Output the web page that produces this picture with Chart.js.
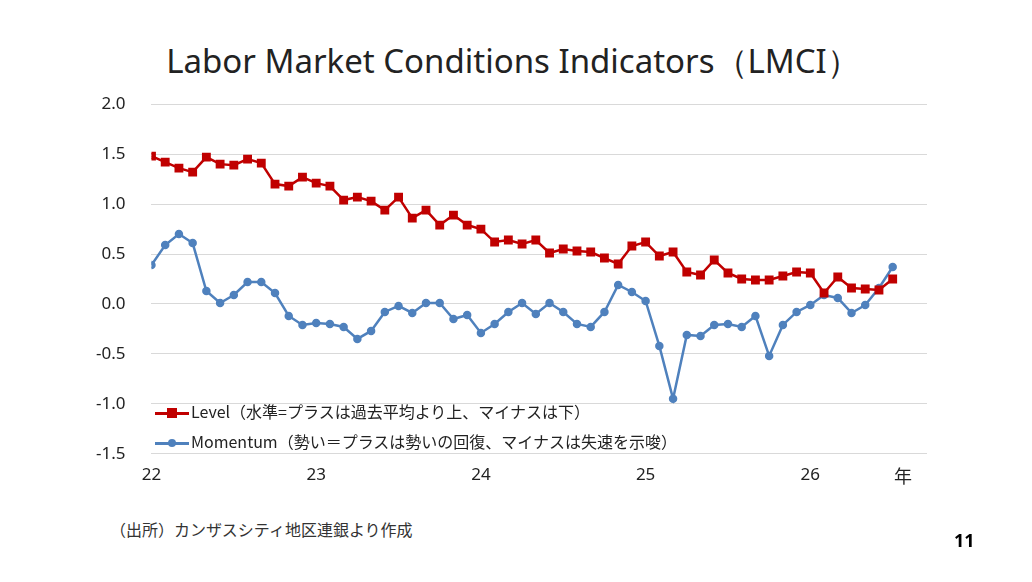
<html>
<head>
<meta charset="utf-8">
<script src="https://cdn.jsdelivr.net/npm/chart.js"></script>
<style>
  body { margin:0; width:1032px; height:582px; background:#fff; font-family:"Noto Sans CJK JP", sans-serif; position:relative; overflow:hidden; }
  #title { position:absolute; left:8px; width:1010px; top:38px; text-align:center; font-size:33px; color:#222; font-family:"Noto Sans"; }
  #wrap { position:absolute; left:70px; top:68px; width:864px; height:422px; }
  .leg { position:absolute; font-size:16px; color:#222; white-space:nowrap; }
  .leg span.ln { display:inline-block; width:34px; height:3px; vertical-align:middle; position:relative; margin-right:2px; }
  .leg span.mk { position:absolute; left:12px; top:-4px; width:10px; height:10px; }
  #nen { position:absolute; left:894px; top:462px; font-size:18px; color:#222; }
  #src { position:absolute; left:110px; top:517px; font-size:16px; color:#333; }
  #pg { position:absolute; left:954px; top:528px; font-size:18px; font-weight:bold; font-family:"Noto Sans"; }
</style>
</head>
<body>
<div id="title">Labor Market Conditions Indicators（LMCI）</div>
<div id="wrap"><canvas id="c"></canvas></div>
<div class="leg" style="left:155px;top:399px"><span class="ln" style="background:#c00000"><span class="mk" style="background:#c00000"></span></span>Level（水準=プラスは過去平均より上、マイナスは下）</div>
<div class="leg" style="left:155px;top:429px"><span class="ln" style="background:#4f81bd"><span class="mk" style="background:#4f81bd;border-radius:50%;width:8px;height:8px;top:-3px;left:13px"></span></span>Momentum（勢い＝プラスは勢いの回復、マイナスは失速を示唆）</div>
<div id="nen">年</div>
<div id="src">（出所）カンザスシティ地区連銀より作成</div>
<div id="pg">11</div>
<script>
// monthly, starting Jan of year "22"
var yearLabels = ['22','23','24','25','26'];
var level = [1.48,1.42,1.36,1.32,1.47,1.40,1.39,1.45,1.41,1.20,1.18,1.27,1.21,1.18,1.04,1.07,1.03,0.94,1.07,0.86,
  0.94,0.79,0.89,0.79,0.75,0.62,0.64,0.60,0.64,0.51,0.55,0.53,0.52,0.46,0.40,0.58,0.62,0.48,0.52,0.32,
  0.29,0.44,0.31,0.25,0.24,0.24,0.28,0.32,0.31,0.11,0.27,0.16,0.15,0.14,0.25];
var momentum = [0.39,0.59,0.70,0.61,0.13,0.01,0.09,0.22,0.22,0.11,-0.12,-0.21,-0.19,-0.20,-0.23,-0.35,-0.27,-0.08,-0.02,-0.09,
  0.01,0.01,-0.15,-0.11,-0.29,-0.20,-0.08,0.01,-0.10,0.01,-0.08,-0.20,-0.23,-0.08,0.19,0.12,0.03,-0.42,-0.95,-0.31,
  -0.32,-0.21,-0.20,-0.23,-0.12,-0.52,-0.21,-0.08,-0.01,0.09,0.06,-0.09,-0.01,0.16,0.37];

function pts(a){ return a.map(function(v,i){ return {x:i, y:v}; }); }

new Chart(document.getElementById('c'), {
  type: 'line',
  data: { datasets: [
    { label:'Level', data:pts(level), borderColor:'#c00000', backgroundColor:'#c00000', borderWidth:2.5,
      pointStyle:'rect', pointRadius:4.5, tension:0 },
    { label:'Momentum', data:pts(momentum), borderColor:'#4f81bd', backgroundColor:'#4f81bd', borderWidth:2.5,
      pointStyle:'circle', pointRadius:3, tension:0 }
  ]},
  options: {
    responsive:true, maintainAspectRatio:false, animation:false,
    layout:{ padding:{ top:5 } },
    plugins:{ legend:{ display:false }, tooltip:{ enabled:false } },
    scales:{
      x:{ type:'linear', min:0, max:56.5,
        grid:{ display:false }, border:{ display:false },
        ticks:{ stepSize:12, autoSkip:false, color:'#222', font:{ size:17, family:'Noto Sans' },
          callback:function(v){ return yearLabels[v/12] || ''; } } },
      y:{ min:-1.5, max:2.0,
        grid:{ color:'#d9d9d9', drawTicks:false }, border:{ display:false },
        ticks:{ stepSize:0.5, padding:26, color:'#222', font:{ size:17, family:'Noto Sans' },
          callback:function(v){ return v.toFixed(1); } } }
    }
  }
});
</script>
</body>
</html>
